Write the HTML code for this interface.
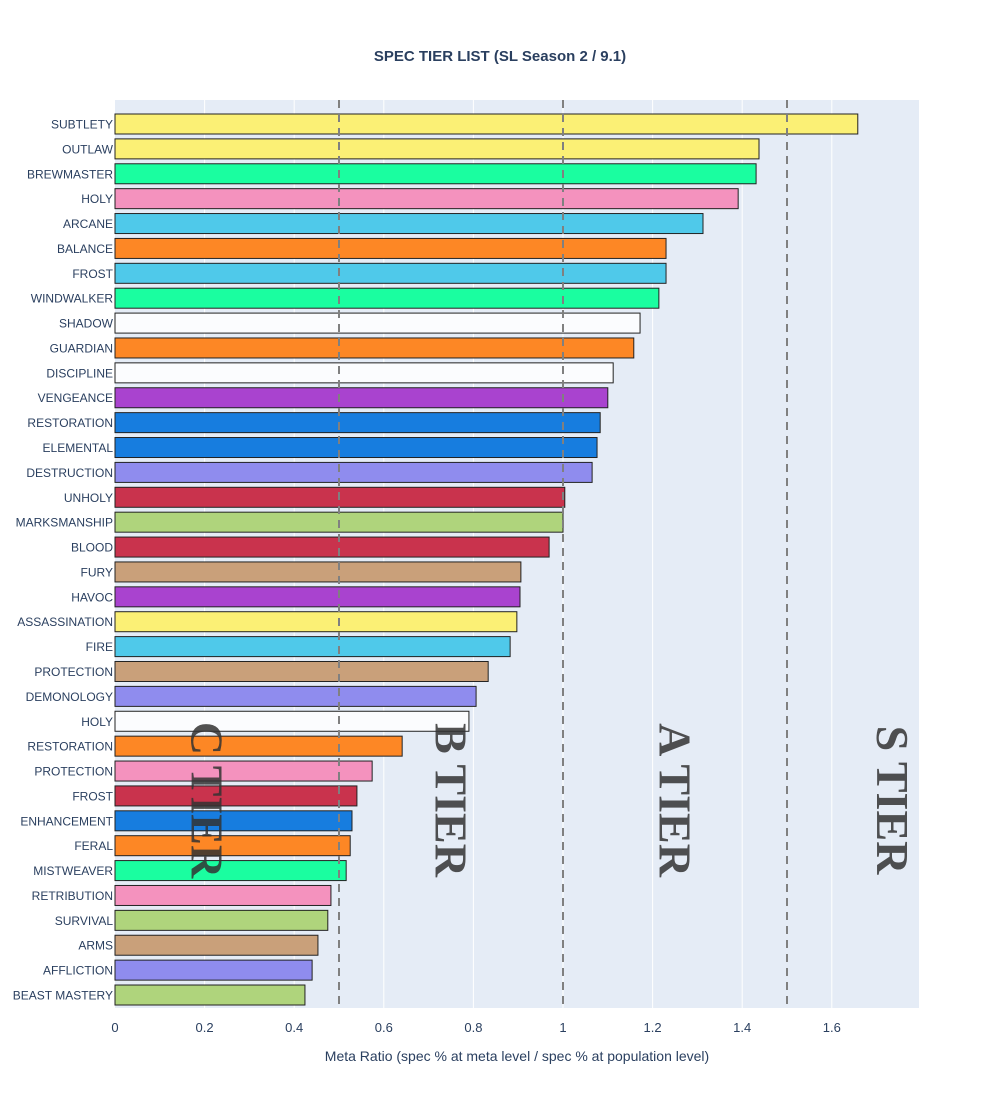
<!DOCTYPE html>
<html><head><meta charset="utf-8"><style>
body{margin:0;background:#fff;font-family:"Liberation Sans",sans-serif;}
</style></head><body>
<svg id="chart" width="1000" height="1100" xmlns="http://www.w3.org/2000/svg">
<rect x="0" y="0" width="1000" height="1100" fill="#fff"/>
<text x="500" y="61" text-anchor="middle" font-size="15" font-weight="bold" fill="#2a3f5f" font-family="Liberation Sans, sans-serif">SPEC TIER LIST (SL Season 2 / 9.1)</text>
<rect x="115" y="100" width="804" height="908" fill="#e5ecf6"/>
<g id="grid"></g><g id="bars"></g><g id="lines"></g><g id="labels"></g>
<text x="517" y="1061" text-anchor="middle" font-size="14" fill="#2a3f5f" font-family="Liberation Sans, sans-serif">Meta Ratio (spec % at meta level / spec % at population level)</text>
</svg>
<script>
const specs=["SUBTLETY","OUTLAW","BREWMASTER","HOLY","ARCANE","BALANCE","FROST","WINDWALKER","SHADOW","GUARDIAN","DISCIPLINE","VENGEANCE","RESTORATION","ELEMENTAL","DESTRUCTION","UNHOLY","MARKSMANSHIP","BLOOD","FURY","HAVOC","ASSASSINATION","FIRE","PROTECTION","DEMONOLOGY","HOLY","RESTORATION","PROTECTION","FROST","ENHANCEMENT","FERAL","MISTWEAVER","RETRIBUTION","SURVIVAL","ARMS","AFFLICTION","BEAST MASTERY"];
const ratios=[1.658,1.4375,1.431,1.391,1.3125,1.23,1.23,1.214,1.172,1.158,1.112,1.1,1.083,1.076,1.065,1.004,1.0,0.969,0.906,0.904,0.897,0.882,0.833,0.806,0.79,0.641,0.574,0.54,0.529,0.525,0.516,0.482,0.475,0.453,0.44,0.424];
const classes=["rogue","rogue","monk","paladin","mage","druid","mage","monk","priest","druid","priest","dh","shaman","shaman","warlock","dk","hunter","dk","warrior","dh","rogue","mage","warrior","warlock","priest","druid","paladin","dk","shaman","druid","monk","paladin","hunter","warrior","warlock","hunter"];
const xTicks=[0,0.2,0.4,0.6,0.8,1,1.2,1.4,1.6];
const tiers=[["C TIER",0.25],["B TIER",0.75],["A TIER",1.25],["S TIER",1.75]];
const thresholds=[0.5,1,1.5];
const colors={rogue:"#fbf075",monk:"#1afea0",paladin:"#f492be",mage:"#4fc9ea",druid:"#fd8725",priest:"#fbfcfe",dh:"#a943cf",shaman:"#177ddf",warlock:"#8f8cee",dk:"#c9334d",hunter:"#afd47c",warrior:"#c9a07a"};
const NS="http://www.w3.org/2000/svg";
const X=v=>115+v*448;
const Y=i=>124+i*24.886;
function mk(p,t,a){const e=document.createElementNS(NS,t);for(const k in a)e.setAttribute(k,a[k]);document.getElementById(p).appendChild(e);return e;}
xTicks.forEach(t=>{
 if(t>0){const l=mk("grid","line",{x1:X(t),x2:X(t),y1:100,y2:1008,stroke:"#fff","stroke-width":1});
 
 }
 const tx=mk("labels","text",{x:X(t),y:1032,"text-anchor":"middle","font-size":13,fill:"#2a3f5f","font-family":"Liberation Sans, sans-serif"});
 tx.textContent=String(t);
 
 
});
specs.forEach((s,i)=>{
 const r=mk("bars","rect",{x:X(0),y:Y(i)-10,width:X(ratios[i])-X(0),height:20,fill:colors[classes[i]],stroke:"#222","stroke-width":1});
 
 
 const t=mk("labels","text",{x:113,y:Y(i)+4.5,"text-anchor":"end","font-size":12,fill:"#2a3f5f","font-family":"Liberation Sans, sans-serif"});
 t.textContent=s;
 
 
});
thresholds.forEach(v=>{
 const l=mk("lines","line",{x1:X(v),x2:X(v),y1:100,y2:1008,stroke:"#808080","stroke-width":2,"stroke-dasharray":"8,6"});
 
 
});
tiers.forEach(([n,v])=>{
 const cx=n==="S TIER"?X(1.735):X(v)-(n==="C TIER"?20:0);
 const t=mk("lines","text",{x:0,y:0,transform:`translate(${cx},800) rotate(90)`,"text-anchor":"middle","dominant-baseline":"central","font-size":46,"font-weight":"bold",fill:"#333","fill-opacity":0.85,"font-family":"Liberation Serif, serif"});
 t.textContent=n;
 
 
});
</script>
</body></html>
